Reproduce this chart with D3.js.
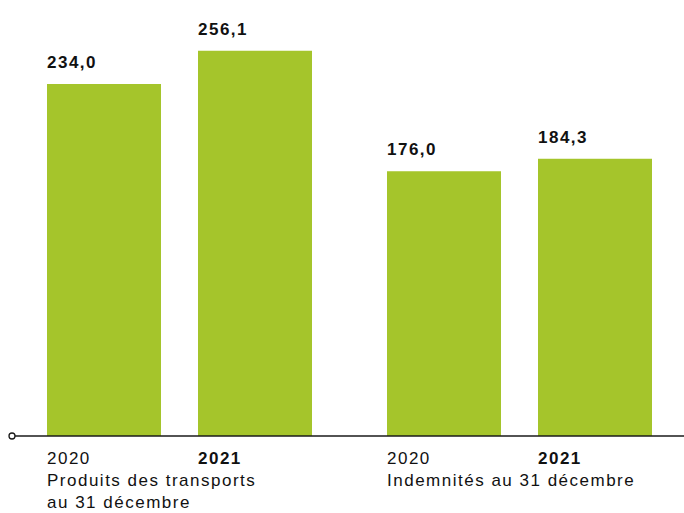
<!DOCTYPE html>
<html><head><meta charset="utf-8">
<script src="https://cdn.jsdelivr.net/npm/d3@7"></script>
<style>body{margin:0;background:#fff}svg{display:block}text{font-family:"Liberation Sans",Arial,sans-serif;fill:#111;letter-spacing:1.5px}</style>
</head><body><svg id="c" width="684" height="513"></svg>
<script>
const categories = [["Produits des transports","au 31 décembre"],["Indemnités au 31 décembre"]];
const years = ["2020","2021"];
const values = [[234.0,256.1],[176.0,184.3]];
const valueLabels = [["234,0","256,1"],["176,0","184,3"]];

const svg = d3.select("#c");
const baseY = 436;
const x0 = d3.scaleBand().domain(d3.range(categories.length)).range([47,652]).paddingInner(75/340).paddingOuter(0);
const x1 = d3.scaleBand().domain(years).range([0,x0.bandwidth()]).paddingInner(37/151).paddingOuter(0);
const y = d3.scaleLinear().domain([0,234]).range([baseY,84]);
const color = "#a5c52b";

categories.forEach((cat,i)=>{
  const g = svg.append("g").attr("transform",`translate(${x0(i)},0)`);
  years.forEach((yr,j)=>{
    const v = values[i][j];
    g.append("rect").attr("x",x1(yr)).attr("y",y(v)).attr("width",x1.bandwidth()).attr("height",baseY-y(v)).attr("fill",color);
    g.append("text").attr("x",x1(yr)).attr("y",y(v)-16).attr("font-size",17).attr("font-weight","bold").text(valueLabels[i][j]);
    g.append("text").attr("x",x1(yr)).attr("y",464).attr("font-size",17).attr("font-weight",j===1?"bold":"normal").text(yr);
  });
  cat.forEach((line,k)=>{
    g.append("text").attr("x",0).attr("y",486+k*22).attr("font-size",17).text(line);
  });
});
svg.append("line").attr("x1",15).attr("x2",684).attr("y1",baseY).attr("y2",baseY).attr("stroke","#1a1a1a").attr("stroke-width",1.3);
svg.append("circle").attr("cx",12).attr("cy",baseY).attr("r",3).attr("fill","#fff").attr("stroke","#1a1a1a").attr("stroke-width",1.3);
</script></body></html>
